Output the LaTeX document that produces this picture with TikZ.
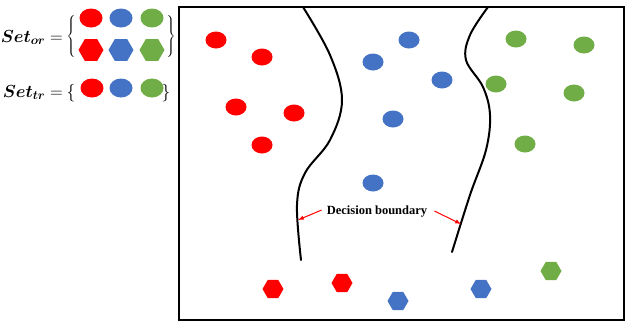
\RequirePackage{fix-cm}
\documentclass[tikz,border=0pt]{standalone}
\usepackage{bm}
\usepackage{fontspec}
\setmainfont{Liberation Serif}
\usetikzlibrary{shapes.geometric}
\definecolor{setred}{HTML}{FF0000}
\definecolor{setblue}{HTML}{4472C4}
\definecolor{setgreen}{HTML}{70AD47}

\begin{document}
\begin{tikzpicture}
[x=1pt, y=-1pt,
% STYLES
every node/.style={inner sep=0pt},
% The sample styles are used to draw the data points
sample/.style={ellipse, minimum width=21pt, minimum height=17pt},
hexa/.style={regular polygon, regular polygon sides=6, minimum size=21pt},
keysample/.style={ellipse, minimum width=23pt, minimum height=19pt},
keyhexa/.style={regular polygon, regular polygon sides=6, minimum size=25pt},
setfont/.style={font={\fontsize{17.5}{21}\selectfont}},
boundary/.style={line width=2pt, line cap=round}]

\useasboundingbox (0,0) rectangle (627,322);

% Legend
\node [setfont, anchor=base east] (setor) at (63,42) {$\bm{Set_{or}} =$};
\node (oropen) at (71,36) {\nulldelimiterspace=0pt$\left\{\vcenter{\hbox{\rule{0pt}{44pt}}}\right.$};
\node [keysample, fill=setred] (orr) at (91,18) {};
\node [keysample, fill=setblue] (orb) at (121,18) {};
\node [keysample, fill=setgreen] (org) at (152,18) {};
\node [keyhexa, fill=setred] (orrh) at (91,50) {};
\node [keyhexa, fill=setblue] (orbh) at (121,50) {};
\node [keyhexa, fill=setgreen] (orgh) at (152,50) {};
\node (orclose) at (171,36) {\nulldelimiterspace=0pt$\left.\vcenter{\hbox{\rule{0pt}{44pt}}}\right\}$};

\node [setfont, anchor=base east] (settr) at (63,97) {$\bm{Set_{tr}} =$};
\node [setfont, anchor=base] (tropen) at (71,97) {$\{$};
\node [keysample, fill=setred] (trr) at (92,88) {};
\node [keysample, fill=setblue] (trb) at (121,88) {};
\node [keysample, fill=setgreen] (trg) at (152,88) {};
\node [setfont, anchor=base] (trclose) at (166,97) {$\}$};

% Feature space
\draw [line width=2pt] (179,7) rectangle (624,320);

\node [sample, fill=setred] (r1) at (216,40) {};
\node [sample, fill=setred] (r2) at (262,57) {};
\node [sample, fill=setred] (r3) at (236,107) {};
\node [sample, fill=setred] (r4) at (294,113) {};
\node [sample, fill=setred] (r5) at (262,145) {};

\node [sample, fill=setblue] (b1) at (409,40) {};
\node [sample, fill=setblue] (b2) at (373,62) {};
\node [sample, fill=setblue] (b3) at (442,80) {};
\node [sample, fill=setblue] (b4) at (393,119) {};
\node [sample, fill=setblue] (b5) at (373,183) {};

\node [sample, fill=setgreen] (g1) at (516,39) {};
\node [sample, fill=setgreen] (g2) at (584,45) {};
\node [sample, fill=setgreen] (g3) at (496,84) {};
\node [sample, fill=setgreen] (g4) at (574,93) {};
\node [sample, fill=setgreen] (g5) at (525,144) {};

\node [hexa, fill=setred] (rh1) at (273,289) {};
\node [hexa, fill=setred] (rh2) at (342,283) {};
\node [hexa, fill=setblue] (bh1) at (398,301) {};
\node [hexa, fill=setblue] (bh2) at (481,289) {};
\node [hexa, fill=setgreen] (gh1) at (551,271) {};

% Decision boundaries
\draw [boundary] plot [smooth, tension=0.6] coordinates
  {(303,7) (330,55) (342,100) (330,140) (305,173) (297,205) (301,260)};
\draw [boundary] plot [smooth, tension=0.6] coordinates
  {(488,7) (470,35) (466,60) (483,87) (490,115) (486,150) (470,195) (452,252)};
\coordinate (lefthit) at (298,220);
\coordinate (righthit) at (461,224);

\node [font={\bfseries\fontsize{12.5}{15}\selectfont}] (decision) at (377,212) {Decision boundary};
\draw [>=latex, ->, red, line width=1pt] ([shift={(-5,-2)}]decision.west) -- (lefthit);
\draw [>=latex, ->, red, line width=1pt] ([shift={(7,-1)}]decision.east) -- (righthit);

\end{tikzpicture}
\end{document}
